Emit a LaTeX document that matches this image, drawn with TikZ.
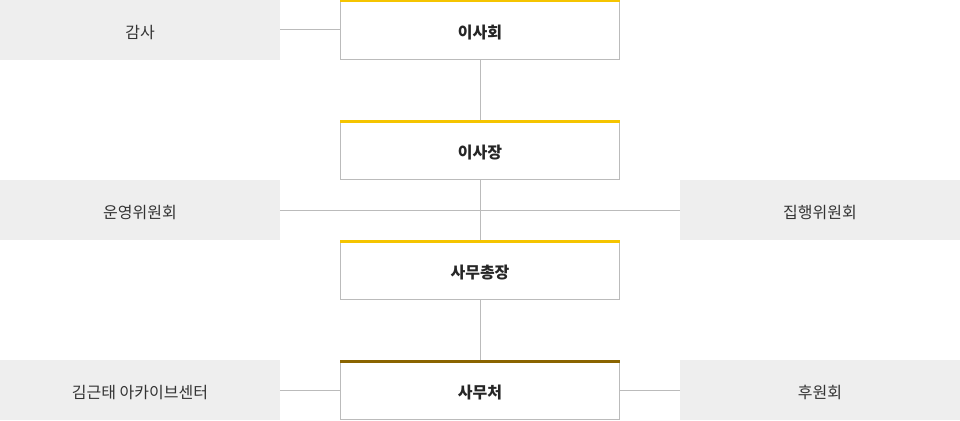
\documentclass[tikz,border=0pt]{standalone}
\usepackage{fontspec}
\setmainfont{Noto Sans CJK KR}
\usetikzlibrary{positioning}
\definecolor{linegray}{HTML}{BBBBBB}
\definecolor{sidegray}{HTML}{EEEEEE}
\definecolor{topyellow}{HTML}{F5C400}
\definecolor{topbrown}{HTML}{8A6400}
\tikzstyle{mainbox}=[rectangle,draw=linegray,fill=white,line width=1pt,minimum width=279pt,minimum height=59pt,inner sep=0pt,text height=16pt,text depth=0pt,font=\fontsize{16}{19}\selectfont\bfseries,text=black!85]
\tikzstyle{sidebox}=[rectangle,fill=sidegray,minimum width=280pt,minimum height=60pt,inner sep=0pt,text height=16pt,text depth=0pt,font=\fontsize{16}{19}\selectfont,text=black!80]
\tikzstyle{link} = [draw,linegray,line width=1pt]
\tikzstyle{topline} = [line width=3pt]

\begin{document}
\begin{tikzpicture}[x=1pt,y=-1pt]
    \useasboundingbox (0,0) rectangle (960,420);
    % side boxes
    \foreach \pos/\name/\txt in {{(140,30)/audit/감사}, {(140,210)/opcom/운영위원회}, {(820,210)/execom/집행위원회}, {(140,390)/archive/김근태 아카이브센터}, {(820,390)/support/후원회}}
            \node[sidebox] (\name) at \pos {\txt};

    % main column
    \foreach \pos/\name/\txt in {{(480,30)/board/이사회}, {(480,150)/chair/이사장}, {(480,270)/secgen/사무총장}, {(480,390)/office/사무처}}
            \node[mainbox] (\name) at \pos {\txt};

    \foreach \source/ \dest in {audit/board, board/chair, chair/secgen, secgen/office, archive/office, office/support, opcom/execom}
        \path[link] (\source) -- (\dest);

   \foreach \name in {board, chair, secgen}
        \draw[topline, topyellow] ([yshift=-1pt]\name.north west) -- ([yshift=-1pt]\name.north east);
   \draw[topline, topbrown] ([yshift=-1pt]office.north west) -- ([yshift=-1pt]office.north east);

   \end{tikzpicture}
\end{document}
